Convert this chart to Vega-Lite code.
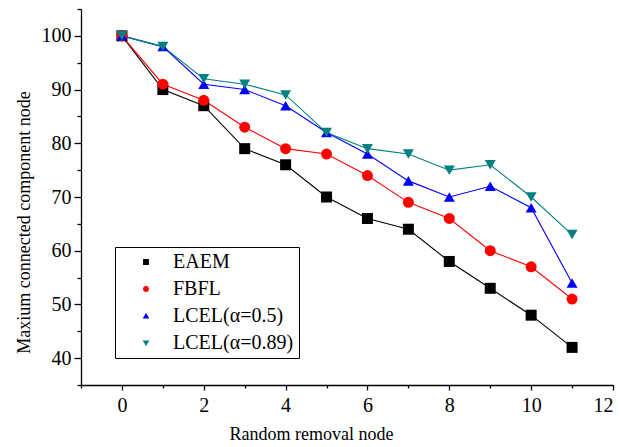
{
  "$schema": "https://vega.github.io/schema/vega-lite/v6.json",
  "width": 532,
  "height": 376,
  "autosize": {"type": "none"},
  "padding": {"left": 81, "top": 9, "right": 9, "bottom": 62},
  "background": "white",
  "config": {
    "view": {"stroke": null},
    "font": "Liberation Serif",
    "axis": {
      "grid": false,
      "domainColor": "#000",
      "tickColor": "#000",
      "labelColor": "#000",
      "titleColor": "#000",
      "labelFont": "Liberation Serif",
      "titleFont": "Liberation Serif",
      "labelFontSize": 20,
      "titleFontSize": 18,
      "titleFontWeight": "normal",
      "domainWidth": 1.3,
      "tickWidth": 1.3
    },
    "legend": {"labelFont": "Liberation Serif", "labelColor": "#000"}
  },
  "data": {
    "values": [
      {"x": 0, "series": "EAEM", "y": 100}, {"x": 1, "series": "EAEM", "y": 90}, {"x": 2, "series": "EAEM", "y": 87}, {"x": 3, "series": "EAEM", "y": 79}, {"x": 4, "series": "EAEM", "y": 76}, {"x": 5, "series": "EAEM", "y": 70}, {"x": 6, "series": "EAEM", "y": 66}, {"x": 7, "series": "EAEM", "y": 64}, {"x": 8, "series": "EAEM", "y": 58}, {"x": 9, "series": "EAEM", "y": 53}, {"x": 10, "series": "EAEM", "y": 48}, {"x": 11, "series": "EAEM", "y": 42},
      {"x": 0, "series": "FBFL", "y": 100}, {"x": 1, "series": "FBFL", "y": 91}, {"x": 2, "series": "FBFL", "y": 88}, {"x": 3, "series": "FBFL", "y": 83}, {"x": 4, "series": "FBFL", "y": 79}, {"x": 5, "series": "FBFL", "y": 78}, {"x": 6, "series": "FBFL", "y": 74}, {"x": 7, "series": "FBFL", "y": 69}, {"x": 8, "series": "FBFL", "y": 66}, {"x": 9, "series": "FBFL", "y": 60}, {"x": 10, "series": "FBFL", "y": 57}, {"x": 11, "series": "FBFL", "y": 51},
      {"x": 0, "series": "LCEL(α=0.5)", "y": 100}, {"x": 1, "series": "LCEL(α=0.5)", "y": 98}, {"x": 2, "series": "LCEL(α=0.5)", "y": 91}, {"x": 3, "series": "LCEL(α=0.5)", "y": 90}, {"x": 4, "series": "LCEL(α=0.5)", "y": 87}, {"x": 5, "series": "LCEL(α=0.5)", "y": 82}, {"x": 6, "series": "LCEL(α=0.5)", "y": 78}, {"x": 7, "series": "LCEL(α=0.5)", "y": 73}, {"x": 8, "series": "LCEL(α=0.5)", "y": 70}, {"x": 9, "series": "LCEL(α=0.5)", "y": 72}, {"x": 10, "series": "LCEL(α=0.5)", "y": 68}, {"x": 11, "series": "LCEL(α=0.5)", "y": 54},
      {"x": 0, "series": "LCEL(α=0.89)", "y": 100}, {"x": 1, "series": "LCEL(α=0.89)", "y": 98}, {"x": 2, "series": "LCEL(α=0.89)", "y": 92}, {"x": 3, "series": "LCEL(α=0.89)", "y": 91}, {"x": 4, "series": "LCEL(α=0.89)", "y": 89}, {"x": 5, "series": "LCEL(α=0.89)", "y": 82}, {"x": 6, "series": "LCEL(α=0.89)", "y": 79}, {"x": 7, "series": "LCEL(α=0.89)", "y": 78}, {"x": 8, "series": "LCEL(α=0.89)", "y": 75}, {"x": 9, "series": "LCEL(α=0.89)", "y": 76}, {"x": 10, "series": "LCEL(α=0.89)", "y": 70}, {"x": 11, "series": "LCEL(α=0.89)", "y": 63}
    ]
  },
  "resolve": {"axis": {"x": "independent", "y": "independent"}},
  "layer": [
    {
      "mark": {"type": "line", "strokeWidth": 1.1},
      "encoding": {
        "x": {"field": "x", "type": "quantitative", "scale": {"domain": [-1, 12], "nice": false, "zero": false},
          "axis": {"orient": "bottom", "values": [0, 2, 4, 6, 8, 10, 12], "title": "Random removal node", "tickSize": 5, "labelPadding": 5, "titlePadding": 10, "titleX": 230}},
        "y": {"field": "y", "type": "quantitative", "scale": {"domain": [35, 105], "nice": false, "zero": false},
          "axis": {"orient": "left", "values": [40, 50, 60, 70, 80, 90, 100], "title": "Maxium connected component node", "tickSize": 7, "labelPadding": 3, "titlePadding": 8, "titleY": 213}},
        "color": {"field": "series", "type": "nominal",
          "scale": {"domain": ["EAEM", "FBFL", "LCEL(α=0.5)", "LCEL(α=0.89)"], "range": ["#000000", "#ff0000", "#0000ff", "#008080"]},
          "legend": {"orient": "none", "legendX": 34, "legendY": 238, "title": null, "symbolType": "M-10,0H10", "symbolSize": 22, "symbolStrokeWidth": 1.1, "symbolOffset": 16, "labelFontSize": 20, "labelOffset": 17, "strokeColor": "#000", "fillColor": "white", "padding": 5, "rowPadding": 7,
            "encode": {"symbols": {"update": {
              "shape": {"signal": "datum.value === 'EAEM' ? 'M-10,0H10M-1.7,-1.7H1.7V1.7H-1.7Z' : datum.value === 'FBFL' ? 'M-10,0H10M-2,0A2,2 0 1,0 2,0A2,2 0 1,0 -2,0Z' : datum.value === 'LCEL(α=0.5)' ? 'M-10,0H10M0,-2.03L2.35,2.03L-2.35,2.03Z' : 'M-10,0H10M0,2.03L2.35,-2.03L-2.35,-2.03Z'"},
              "fill": {"signal": "scale('color', datum.value)"},
              "fillOpacity": {"value": 1},
              "stroke": {"signal": "scale('color', datum.value)"},
              "strokeWidth": {"value": 1.1},
              "size": {"value": 22}
            }}}}}
      }
    },
    {
      "mark": {"type": "point", "filled": true, "opacity": 1},
      "encoding": {
        "x": {"field": "x", "type": "quantitative",
          "axis": {"orient": "bottom", "values": [-1, 1, 3, 5, 7, 9, 11], "labels": false, "domain": false, "tickSize": 3, "title": null}},
        "y": {"field": "y", "type": "quantitative",
          "axis": {"orient": "left", "values": [35, 45, 55, 65, 75, 85, 95, 105], "labels": false, "domain": false, "tickSize": 4, "title": null}},
        "color": {"field": "series", "type": "nominal"},
        "size": {"field": "series", "type": "nominal", "legend": null,
          "scale": {"domain": ["LCEL(α=0.89)", "LCEL(α=0.5)", "FBFL", "EAEM"], "range": [121, 121, 90, 64]}},
        "shape": {"field": "series", "type": "nominal",
          "scale": {"domain": ["EAEM", "FBFL", "LCEL(α=0.5)", "LCEL(α=0.89)"], "range": ["square", "circle", "triangle-up", "triangle-down"]},
          "legend": {"orient": "none", "legendX": 34, "legendY": 238, "title": null, "symbolType": "M-10,0H10", "symbolSize": 22, "symbolStrokeWidth": 1.1, "symbolOffset": 16, "labelFontSize": 20, "labelOffset": 17, "strokeColor": "#000", "fillColor": "white", "padding": 5, "rowPadding": 7,
            "encode": {"symbols": {"update": {
              "shape": {"signal": "datum.value === 'EAEM' ? 'M-10,0H10M-1.7,-1.7H1.7V1.7H-1.7Z' : datum.value === 'FBFL' ? 'M-10,0H10M-2,0A2,2 0 1,0 2,0A2,2 0 1,0 -2,0Z' : datum.value === 'LCEL(α=0.5)' ? 'M-10,0H10M0,-2.03L2.35,2.03L-2.35,2.03Z' : 'M-10,0H10M0,2.03L2.35,-2.03L-2.35,-2.03Z'"},
              "fill": {"signal": "scale('color', datum.value)"},
              "fillOpacity": {"value": 1},
              "stroke": {"signal": "scale('color', datum.value)"},
              "strokeWidth": {"value": 1.1},
              "size": {"value": 22}
            }}}}}
      }
    }
  ]
}
